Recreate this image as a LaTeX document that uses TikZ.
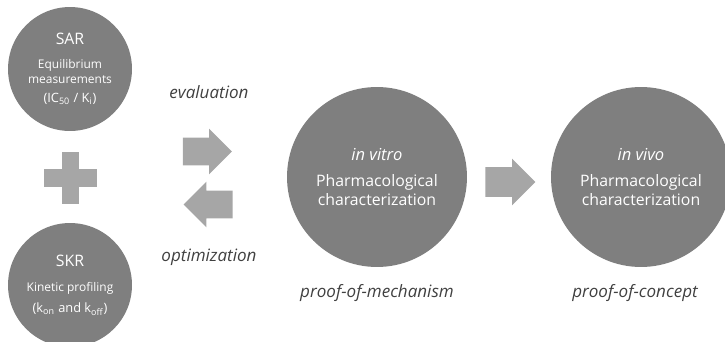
\documentclass[tikz,border=0pt]{standalone}
\usepackage{fontspec}
\setmainfont{Open Sans}
\usetikzlibrary{shapes.arrows}
\definecolor{circlegray}{RGB}{127,127,127}
\definecolor{arrowgray}{RGB}{166,166,166}
\definecolor{textgray}{RGB}{64,64,64}

\begin{document}
\begin{tikzpicture}[x=0.02cm, y=-0.02cm,
        small/.style = {circle, fill=circlegray, text=white, align=center, inner sep=0pt, minimum size=2.48cm, font=\fontsize{6.8}{8.5}\selectfont},
        big/.style = {circle, fill=circlegray, text=white, align=center, inner sep=0pt, minimum size=3.6cm, font=\fontsize{9}{10.8}\selectfont},
        block/.style = {single arrow, fill=arrowgray, inner xsep=0pt, inner ysep=0.27cm, minimum height=0.98cm, minimum width=0.9cm, single arrow head extend=0.18cm},
        bar/.style = {rectangle, fill=arrowgray, inner sep=0pt},
        caption/.style = {text=textgray, font=\fontsize{9.7}{12}\selectfont\itshape}]
    \useasboundingbox (0,0) rectangle (725,342);
    % left column
    \node[small] (sar) at (70,69) {{\fontsize{9}{11}\selectfont SAR}\\[5pt] Equilibrium\\ measurements\\[2.3pt] {\fontsize{7.3}{9}\selectfont (IC\textsubscript{50} / K\textsubscript{i})}};
    \node[bar, minimum width=1.06cm, minimum height=0.36cm] (plush) at (70.5,178) {};
    \node[bar, minimum width=0.34cm, minimum height=1.04cm] (plusv) at (70.5,178) {};
    \node[small] (skr) at (70,285) {{\fontsize{9}{11}\selectfont SKR}\\[6pt] Kinetic profiling\\[3.5pt] {\fontsize{7.3}{9}\selectfont (k\textsubscript{on} and k\textsubscript{off})}};
    % feedback arrows
    \node[caption] (eval) at (209,92) {evaluation};
    \node[block] (fwd) at (200.5,151.5) {};
    \node[block, shape border rotate=180] (back) at (215,204.5) {};
    \node[caption] (opt) at (209,257) {optimization};
    % characterization
    \node[big] (vitro) at (377,177) {{\fontsize{9.4}{11}\selectfont\itshape in vitro}\\[4.5pt] Pharmacological\\ characterization};
    \node[block, minimum height=1cm, minimum width=0.92cm, inner ysep=0.29cm, single arrow head extend=0.17cm] (next) at (503,182) {};
    \node[big] (vivo) at (641,177) {{\fontsize{9.4}{11}\selectfont\itshape in vivo}\\[4.5pt] Pharmacological\\ characterization};
    \node[caption] (pom) at (377,293) {proof-of-mechanism};
    \node[caption] (poc) at (635,293) {proof-of-concept};
\end{tikzpicture}
\end{document}
